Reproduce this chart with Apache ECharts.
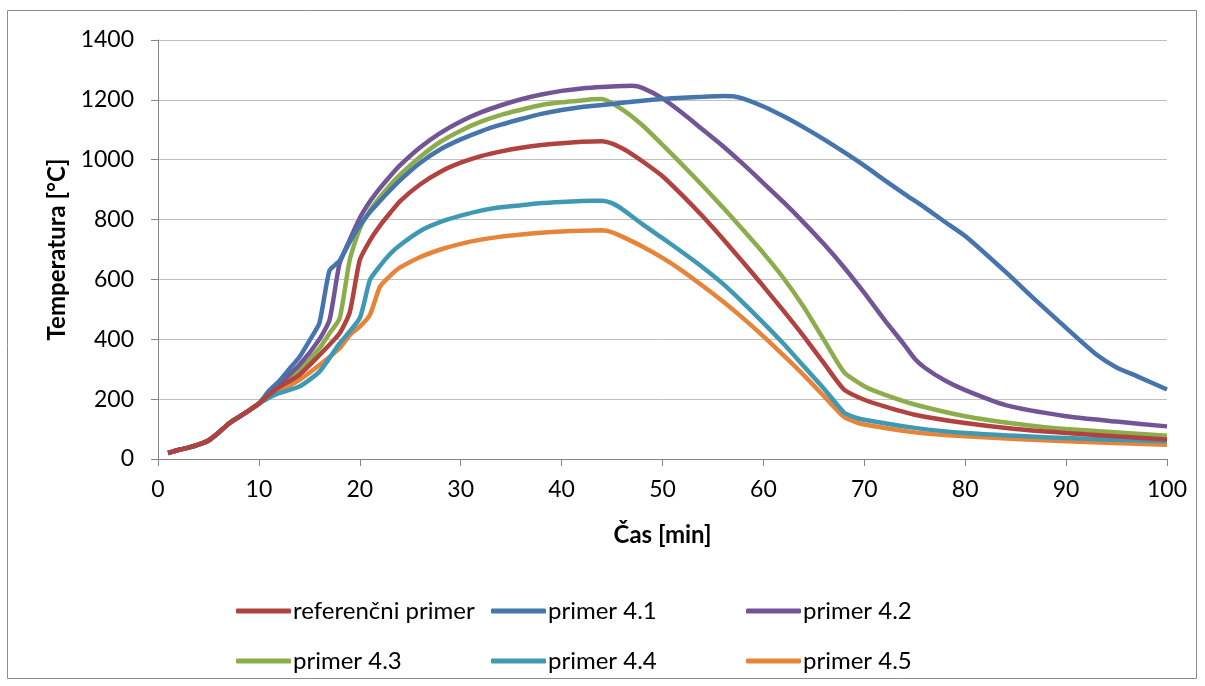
<!DOCTYPE html>
<html>
<head>
<meta charset="utf-8">
<script src="https://cdn.jsdelivr.net/npm/echarts@6/dist/echarts.min.js"></script>
<style>
html,body{margin:0;padding:0;background:#fff;}
#c{width:1205px;height:686px;}
</style>
</head>
<body>
<div id="c"></div>
<script>
// Series names
const seriesNames = ['referenčni primer','primer 4.1','primer 4.2','primer 4.3','primer 4.4','primer 4.5'];
// common heating start (t min, °C)
const commonStart = [[1,20],[2,30],[3,38],[4,48],[5,62],[6,88],[7,118],[8,140],[9,162],[10,185]];
// per-series readings [time min, temperature °C]
const refData = [[11,215],[12,240],[14,281],[16,347],[18,420],[19,490],[20,665],[21,730],[22,780],[23,822],[24,862],[26,918],[28,960],[30,990],[32,1012],[34,1028],[36,1040],[38,1049],[40,1055],[42,1060],[44,1062],[45,1054],[46,1038],[47,1018],[48,995],[50,945],[52,880],[54,810],[56,735],[58,657],[60,577],[62,495],[64,410],[66,320],[68,232],[70,198],[72,176],[75,148],[80,120],[85,100],[90,87],[100,65]];
const p41Data = [[11,228],[12,260],[13,300],[14,340],[15,395],[16,455],[17,630],[18,662],[19,725],[20,780],[21,825],[22,862],[23,898],[24,932],[26,990],[28,1035],[30,1068],[32,1095],[34,1117],[36,1136],[38,1153],[40,1166],[42,1176],[44,1183],[46,1190],[48,1197],[50,1203],[52,1207],[54,1210],[56,1213],[57,1212],[58,1204],[60,1178],[62,1145],[64,1108],[66,1068],[68,1025],[70,980],[72,932],[74,885],[76,840],[78,792],[80,745],[84,625],[87,530],[90,438],[93,349],[95,306],[97,277],[100,232]];
const p42Data = [[11,222],[12,250],[14,314],[16,400],[17,465],[18,654],[19,732],[20,805],[21,860],[22,905],[23,945],[24,982],[26,1042],[28,1090],[30,1128],[32,1158],[34,1182],[36,1202],[38,1218],[40,1230],[42,1238],[44,1243],[46,1246],[47,1247],[48,1240],[50,1205],[52,1155],[54,1100],[56,1045],[58,985],[60,922],[62,858],[64,790],[66,718],[68,640],[70,555],[72,465],[74,380],[75,335],[76,305],[78,262],[80,230],[84,180],[90,143],[95,125],[100,109]];
const p43Data = [[11,220],[12,245],[14,297],[16,370],[17,420],[18,470],[19,665],[20,770],[21,830],[22,875],[23,915],[24,950],[26,1010],[28,1060],[30,1097],[32,1127],[34,1150],[36,1167],[38,1183],[40,1192],[42,1198],[43,1202],[44,1203],[46,1168],[48,1115],[50,1050],[52,982],[54,912],[56,840],[58,765],[60,688],[62,604],[64,508],[66,398],[68,290],[70,243],[72,215],[75,182],[80,143],[85,118],[90,100],[100,78]];
const p44Data = [[11,205],[12,220],[14,242],[16,292],[18,386],[20,471],[21,598],[22,645],[23,685],[24,715],[26,762],[28,792],[30,813],[32,830],[34,841],[36,848],[38,855],[40,859],[42,862],[44,863],[45,855],[46,835],[48,785],[50,738],[52,690],[54,640],[56,585],[58,522],[60,455],[62,385],[64,310],[66,235],[68,155],[69,140],[70,131],[75,104],[80,87],[90,70],[100,59]];
const p45Data = [[11,208],[12,228],[14,264],[16,314],[18,370],[19,414],[20,442],[21,481],[22,576],[23,612],[24,640],[26,675],[28,700],[30,719],[32,733],[34,743],[36,750],[38,756],[40,760],[42,763],[44,764],[45,757],[46,743],[48,710],[50,672],[52,628],[54,578],[56,526],[58,470],[60,410],[62,346],[64,280],[66,210],[68,140],[69,125],[70,115],[75,89],[80,76],[90,59],[100,48]];
const xTicks = [0,10,20,30,40,50,60,70,80,90,100];
const yTicks = [0,200,400,600,800,1000,1200,1400];

const allData = [refData,p41Data,p42Data,p43Data,p44Data,p45Data];
const colors = ['#B0423F','#4675AE','#725597','#8DAD4D','#4099B3','#E6853A'];
const FONT = 'Lato';

const chart = echarts.init(document.getElementById('c'));
const series = seriesNames.map((n,i)=>({
  name:n, type:'line', data: commonStart.concat(allData[i]),
  showSymbol:false, smooth:0.2,
  lineStyle:{width:4.5,color:colors[i]}, itemStyle:{color:colors[i]},
  z: 10 - i
}));
const legendPos = [[231,594],[486,594],[741,594],[231,644],[486,644],[741,644]];
const legends = seriesNames.map((n,i)=>({
  data:[n], left:legendPos[i][0], top:legendPos[i][1], icon:'roundRect', itemWidth:55, itemHeight:5,
  itemGap:0, selectedMode:false,
  textStyle:{fontFamily:FONT,fontSize:24,color:'#000',padding:[0,0,0,-3]}
}));
chart.setOption({
  animation:false,
  color:colors,
  graphic:[{type:'rect',shape:{x:7.5,y:10.5,width:1189,height:668},style:{fill:'none',stroke:'#8c8c8c',lineWidth:1},silent:true}],
  grid:{left:158,right:38,top:40,bottom:227},
  legend:legends,
  xAxis:{type:'value',min:xTicks[0],max:xTicks[xTicks.length-1],interval:10,
    name:'Čas [min]',nameLocation:'middle',nameGap:64,
    nameTextStyle:{fontFamily:FONT,fontSize:24,fontWeight:'bold',color:'#000'},
    axisLine:{show:true,onZero:false,lineStyle:{color:'#868686',width:1}},
    axisTick:{show:true,length:7,lineStyle:{color:'#868686'}},
    splitLine:{show:false},
    axisLabel:{fontFamily:FONT,fontSize:23,color:'#000',margin:19,formatter:v=>String(v)}},
  yAxis:{type:'value',min:yTicks[0],max:yTicks[yTicks.length-1],interval:200,
    name:'Temperatura [°C]',nameLocation:'middle',nameGap:88,nameRotate:90,
    nameTextStyle:{fontFamily:FONT,fontSize:24,fontWeight:'bold',color:'#000'},
    axisLine:{show:true,lineStyle:{color:'#868686',width:1}},
    axisTick:{show:true,length:7,lineStyle:{color:'#868686'}},
    splitLine:{show:true,lineStyle:{color:'#BFBFBF',width:1}},
    axisLabel:{fontFamily:FONT,fontSize:23,color:'#000',margin:24,formatter:v=>String(v)}},
  series:series
});
</script>
</body>
</html>
